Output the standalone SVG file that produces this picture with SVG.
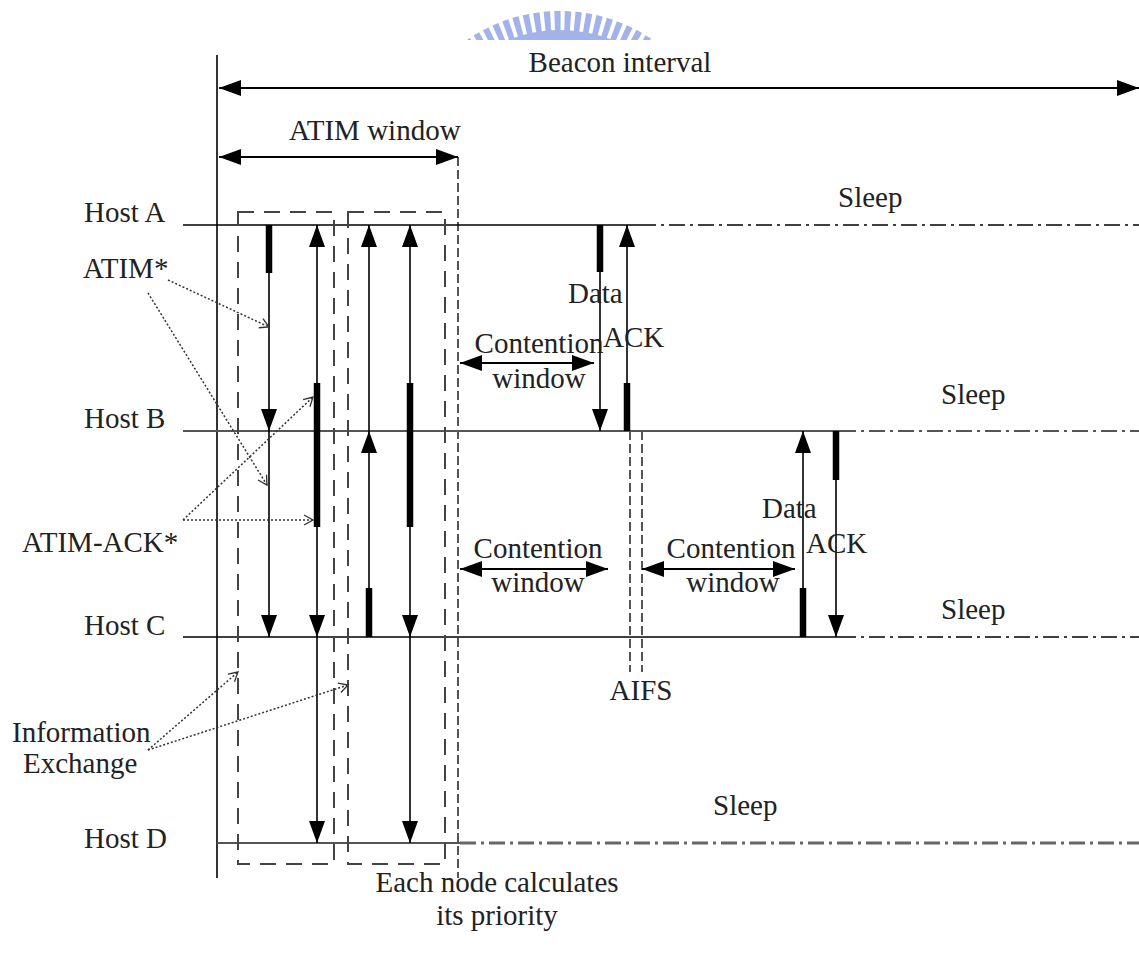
<svg xmlns="http://www.w3.org/2000/svg" width="1139" height="953" viewBox="0 0 1139 953">
<style>
text{font-family:"Liberation Serif","Times New Roman",serif;font-size:29px;fill:#222}
.mid{text-anchor:middle}
.ln{stroke:#000;stroke-width:1.6;fill:none}
.gl{stroke:#555;stroke-width:2.2;fill:none}
.dd{stroke-dasharray:16 5 3 5;fill:none}
.box{fill:none;stroke:#444;stroke-width:2;stroke-dasharray:16 10}
.vd{stroke:#555;stroke-width:2;stroke-dasharray:9 4;fill:none}
.bar{stroke:#000;stroke-width:6.5;fill:none}
.msg{stroke:#000;stroke-width:1.6;fill:none;marker-end:url(#ah)}
.dbl{stroke:#000;stroke-width:2;fill:none;marker-start:url(#ah);marker-end:url(#ah)}
.note{stroke:#333;stroke-width:1.5;stroke-dasharray:2 2;fill:none;marker-end:url(#oh)}
</style>
<defs>
<marker id="ah" markerUnits="userSpaceOnUse" markerWidth="22" markerHeight="16" refX="22" refY="8" orient="auto-start-reverse">
<path d="M0,0 L22,8 L0,16 z" fill="#000"/>
</marker>
<marker id="oh" markerUnits="userSpaceOnUse" markerWidth="12" markerHeight="12" refX="10" refY="6" orient="auto">
<path d="M1,1 L10,6 L1,11" fill="none" stroke="#333" stroke-width="1.3"/>
</marker>
<clipPath id="wm"><rect x="440" y="0" width="240" height="40"/></clipPath>
</defs>

<g id="watermark" clip-path="url(#wm)" fill="none" stroke="#a3b3ea">
<circle cx="560" cy="175" r="140" stroke-width="10"/>
<circle cx="560" cy="175" r="154" stroke-width="20" stroke-dasharray="6 4"/>
</g>

<g id="frame">
<line x1="217" y1="55" x2="217" y2="878" class="ln" stroke-width="2"/>
<line x1="458" y1="157" x2="458" y2="878" class="vd"/>
<line x1="630" y1="431" x2="630" y2="672" class="vd"/>
<line x1="642" y1="431" x2="642" y2="672" class="vd"/>
</g>

<g id="host-a">
<text x="84" y="222">Host A</text>
<line x1="183" y1="225" x2="640" y2="225" class="ln"/>
<line x1="640" y1="225" x2="1139" y2="225" class="dd" stroke="#000" stroke-width="1.6"/>
</g>
<g id="host-b">
<text x="84" y="428">Host B</text>
<line x1="183" y1="431" x2="840" y2="431" class="gl"/>
<line x1="840" y1="431" x2="1139" y2="431" class="dd" stroke="#555" stroke-width="2.2"/>
</g>
<g id="host-c">
<text x="84" y="635">Host C</text>
<line x1="183" y1="637" x2="840" y2="637" class="ln"/>
<line x1="840" y1="637" x2="1139" y2="637" class="dd" stroke="#000" stroke-width="1.6"/>
</g>
<g id="host-d">
<text x="84" y="848">Host D</text>
<line x1="217" y1="843" x2="460" y2="843" class="gl" stroke-width="2.5"/>
<line x1="460" y1="843" x2="1139" y2="843" class="dd" stroke="#666" stroke-width="2.8"/>
</g>

<g id="info-boxes">
<rect x="238" y="212" width="96" height="652" class="box"/>
<rect x="348" y="212" width="97" height="652" class="box"/>
</g>

<g id="connectors">
<line x1="219" y1="88" x2="1139" y2="88" class="dbl" stroke="#555" stroke-width="3"/>
<line x1="219" y1="157" x2="458" y2="157" class="dbl"/>
<line x1="460" y1="363" x2="594" y2="363" class="dbl"/>
<line x1="460" y1="569" x2="608" y2="569" class="dbl"/>
<line x1="642" y1="569" x2="795" y2="569" class="dbl"/>

<line x1="269" y1="225" x2="269" y2="273" class="bar"/>
<line x1="269" y1="273" x2="269" y2="431" class="msg"/>
<line x1="269" y1="431" x2="269" y2="637" class="msg"/>

<line x1="317" y1="383" x2="317" y2="527" class="bar"/>
<line x1="317" y1="383" x2="317" y2="225" class="msg"/>
<line x1="317" y1="527" x2="317" y2="637" class="msg"/>
<line x1="317" y1="637" x2="317" y2="843" class="msg"/>

<line x1="369" y1="588" x2="369" y2="637" class="bar"/>
<line x1="369" y1="588" x2="369" y2="431" class="msg"/>
<line x1="369" y1="431" x2="369" y2="225" class="msg"/>

<line x1="410" y1="383" x2="410" y2="527" class="bar"/>
<line x1="410" y1="383" x2="410" y2="225" class="msg"/>
<line x1="410" y1="527" x2="410" y2="637" class="msg"/>
<line x1="410" y1="637" x2="410" y2="843" class="msg"/>

<line x1="600" y1="225" x2="600" y2="272" class="bar"/>
<line x1="600" y1="272" x2="600" y2="431" class="msg"/>
<line x1="627" y1="383" x2="627" y2="431" class="bar"/>
<line x1="627" y1="383" x2="627" y2="225" class="msg"/>

<line x1="803" y1="588" x2="803" y2="637" class="bar"/>
<line x1="803" y1="588" x2="803" y2="431" class="msg"/>
<line x1="836" y1="431" x2="836" y2="480" class="bar"/>
<line x1="836" y1="480" x2="836" y2="637" class="msg"/>

<line x1="168" y1="280" x2="269" y2="327" class="note"/>
<line x1="148" y1="293" x2="267" y2="485" class="note"/>
<line x1="183" y1="520" x2="313" y2="397" class="note"/>
<line x1="183" y1="520" x2="313" y2="520" class="note"/>
<line x1="148" y1="750" x2="238" y2="672" class="note"/>
<line x1="148" y1="750" x2="348" y2="685" class="note"/>
</g>

<g id="labels">
<text x="620" y="72" class="mid">Beacon interval</text>
<text x="289" y="140">ATIM window</text>
<text x="83" y="278">ATIM*</text>
<text x="22" y="552">ATIM-ACK*</text>
<text x="12" y="742">Information</text>
<text x="23" y="773">Exchange</text>
<text x="838" y="207">Sleep</text>
<text x="941" y="404">Sleep</text>
<text x="941" y="619">Sleep</text>
<text x="713" y="815">Sleep</text>
<text x="568" y="303">Data</text>
<text x="603" y="347">ACK</text>
<text x="539" y="353" class="mid">Contention</text>
<text x="539" y="388" class="mid">window</text>
<text x="538" y="558" class="mid">Contention</text>
<text x="538" y="592" class="mid">window</text>
<text x="731" y="558" class="mid">Contention</text>
<text x="733" y="592" class="mid">window</text>
<text x="762" y="518">Data</text>
<text x="806" y="553">ACK</text>
<text x="641" y="700" class="mid">AIFS</text>
<text x="497" y="892" class="mid">Each node calculates</text>
<text x="497" y="925" class="mid">its priority</text>
</g>
</svg>
